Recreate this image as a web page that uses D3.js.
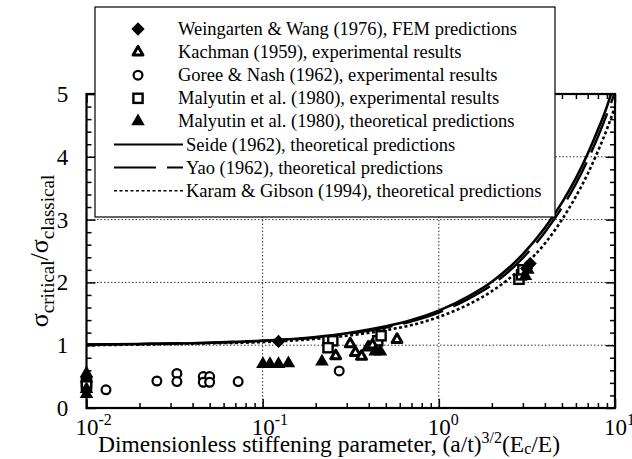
<!DOCTYPE html>
<html><head><meta charset="utf-8">
<script src="https://cdn.jsdelivr.net/npm/d3@7"></script>
</head>
<body style="margin:0"><svg id="c" width="632" height="459"></svg>
<script>
// ---- data ----
const xMajorTicks = [0.01, 0.1, 1, 10];
const xTickExponents = ["-2", "-1", "0", "1"];
const yMajorTicks = [0, 1, 2, 3, 4, 5];

const curveX = [0.01, 0.02, 0.05, 0.1, 0.2, 0.3, 0.5, 0.7, 1, 1.5, 2, 3, 4, 5, 6, 7, 8, 9, 9.5, 10];
const seideY = [1.01, 1.02, 1.04, 1.07, 1.13, 1.19, 1.30, 1.40, 1.55, 1.79, 2.01, 2.45, 2.87, 3.27, 3.66, 4.05, 4.43, 4.80, 5.0, 5.18];
const yaoY   = [1.01, 1.02, 1.04, 1.07, 1.12, 1.18, 1.28, 1.38, 1.52, 1.75, 1.96, 2.39, 2.80, 3.19, 3.57, 3.95, 4.32, 4.68, 4.86, 5.03];
const karamY = [1.00, 1.01, 1.03, 1.05, 1.10, 1.15, 1.24, 1.32, 1.45, 1.66, 1.86, 2.25, 2.62, 3.00, 3.37, 3.73, 4.09, 4.44, 4.62, 4.80];

const weingartenX = [0.123, 3.15, 3.3];
const weingartenY = [1.06, 2.22, 2.30];
const kachmanX = [0.26, 0.314, 0.336, 0.364, 0.398, 0.42, 0.579];
const kachmanY = [0.83, 1.02, 0.88, 0.82, 0.97, 1.00, 1.09];
const goreeX = [0.0129, 0.0251, 0.0326, 0.0326, 0.046, 0.05, 0.046, 0.05, 0.0726, 0.272];
const goreeY = [0.29, 0.43, 0.55, 0.42, 0.50, 0.50, 0.41, 0.41, 0.42, 0.59];
const malyExpX = [0.01, 0.01, 0.235, 0.25, 0.235, 0.45, 0.47, 2.85, 2.95, 3.0];
const malyExpY = [0.42, 0.36, 1.07, 1.07, 0.96, 1.07, 1.15, 2.05, 2.12, 2.20];
const malyThX = [0.01, 0.01, 0.01, 0.01, 0.1003, 0.11, 0.123, 0.14, 0.217, 0.435, 0.466, 3.1, 3.2];
const malyThY = [0.55, 0.47, 0.30, 0.22, 0.70, 0.70, 0.70, 0.71, 0.74, 0.90, 0.90, 2.10, 2.20];

const legendMarkers = [
  {sym: "diamond", label: "Weingarten & Wang (1976), FEM predictions"},
  {sym: "ktri", label: "Kachman (1959), experimental results"},
  {sym: "circle", label: "Goree & Nash (1962), experimental results"},
  {sym: "square", label: "Malyutin et al. (1980), experimental results"},
  {sym: "ftri", label: "Malyutin et al. (1980), theoretical predictions"}
];
const legendLines = [
  {dash: null, label: "Seide (1962), theoretical predictions"},
  {dash: "42,11", label: "Yao (1962), theoretical predictions"},
  {dash: "3,2.5", label: "Karam & Gibson (1994), theoretical predictions"}
];

// ---- layout ----
const FONT = "'Liberation Serif'";
const svg = d3.select("#c");
const L = 86.5, R = 615, T = 94, B = 408;
const x = d3.scaleLog().domain([0.01, 10]).range([L, R]);
const y = d3.scaleLinear().domain([0, 5]).range([B, T]);
function txt(g) { return g.append("text").style("font-family", FONT).attr("fill", "#000"); }

// grid
const grid = svg.append("g").attr("stroke", "#333").attr("stroke-width", 1).attr("stroke-dasharray", "1.5,2");
grid.selectAll("line.h").data([1, 2, 3, 4]).join("line")
  .attr("x1", L).attr("x2", R).attr("y1", d => y(d)).attr("y2", d => y(d));
grid.selectAll("line.v").data([0.1, 1]).join("line")
  .attr("x1", d => x(d)).attr("x2", d => x(d)).attr("y1", T).attr("y2", B);

// axes
const allX = x.ticks().filter(d => d >= 0.01 && d <= 10);
const minorX = allX.filter(d => !xMajorTicks.some(m => Math.abs(m - d) < 1e-9));
const minorY = d3.range(0, 5.001, 0.2).filter(d => Math.abs(d - Math.round(d)) > 1e-6);

function styleAxis(g) {
  g.select(".domain").remove();
  g.selectAll("line").attr("stroke", "#000").attr("stroke-width", 1.5);
  g.selectAll("text").remove();
}
svg.append("g").attr("transform", `translate(0,${B})`).call(d3.axisBottom(x).tickValues(xMajorTicks).tickSize(-9)).call(styleAxis);
svg.append("g").attr("transform", `translate(0,${B})`).call(d3.axisBottom(x).tickValues(minorX).tickSize(-5)).call(styleAxis);
svg.append("g").attr("transform", `translate(0,${T})`).call(d3.axisTop(x).tickValues(xMajorTicks).tickSize(-9)).call(styleAxis);
svg.append("g").attr("transform", `translate(0,${T})`).call(d3.axisTop(x).tickValues(minorX).tickSize(-5)).call(styleAxis);
svg.append("g").attr("transform", `translate(${L},0)`).call(d3.axisLeft(y).tickValues(yMajorTicks).tickSize(-9)).call(styleAxis);
svg.append("g").attr("transform", `translate(${L},0)`).call(d3.axisLeft(y).tickValues(minorY).tickSize(-5)).call(styleAxis);
svg.append("g").attr("transform", `translate(${R},0)`).call(d3.axisRight(y).tickValues(yMajorTicks).tickSize(-9)).call(styleAxis);
svg.append("g").attr("transform", `translate(${R},0)`).call(d3.axisRight(y).tickValues(minorY).tickSize(-5)).call(styleAxis);

// frame
svg.append("rect").attr("x", L).attr("y", T).attr("width", R - L).attr("height", B - T)
  .attr("fill", "none").attr("stroke", "#000").attr("stroke-width", 2.2);

// clip
svg.append("clipPath").attr("id", "clip").append("rect").attr("x", L).attr("y", T).attr("width", R - L).attr("height", B - T);

// curves
const line = d3.line().x(d => x(d[0])).y(d => y(d[1])).curve(d3.curveMonotoneX);
const cg = svg.append("g").attr("clip-path", "url(#clip)").attr("fill", "none").attr("stroke", "#000");
cg.append("path").attr("d", line(d3.zip(curveX, karamY))).attr("stroke-width", 2.6).attr("stroke-dasharray", "3,2.5");
cg.append("path").attr("d", line(d3.zip(curveX, yaoY))).attr("stroke-width", 2.4).attr("stroke-dasharray", "42,11");
cg.append("path").attr("d", line(d3.zip(curveX, seideY))).attr("stroke-width", 2.6);

// markers
function drawSym(g, sym, cx, cy) {
  if (sym === "diamond") {
    g.append("path").attr("d", d3.symbol(d3.symbolSquare, 88)()).attr("transform", `translate(${cx},${cy}) rotate(45)`).attr("fill", "#000");
  } else if (sym === "ftri") {
    g.append("path").attr("d", d3.symbol(d3.symbolTriangle, 80)()).attr("transform", `translate(${cx},${cy})`).attr("fill", "#000");
  } else if (sym === "ktri") {
    g.append("path").attr("d", d3.symbol(d3.symbolTriangle, 42)()).attr("transform", `translate(${cx},${cy})`)
      .attr("fill", "#fff").attr("stroke", "#000").attr("stroke-width", 3).attr("stroke-linejoin", "round");
  } else if (sym === "circle") {
    g.append("circle").attr("cx", cx).attr("cy", cy).attr("r", 4.4).attr("fill", "#fff").attr("stroke", "#000").attr("stroke-width", 2.2);
  } else if (sym === "square") {
    g.append("rect").attr("x", cx - 4.6).attr("y", cy - 4.6).attr("width", 9.2).attr("height", 9.2)
      .attr("fill", "#fff").attr("stroke", "#000").attr("stroke-width", 2.4);
  }
}
const mg = svg.append("g");
d3.zip(goreeX, goreeY).forEach(d => drawSym(mg, "circle", x(d[0]), y(d[1])));
d3.zip(malyExpX, malyExpY).forEach(d => drawSym(mg, "square", x(d[0]), y(d[1])));
d3.zip(kachmanX, kachmanY).forEach(d => drawSym(mg, "ktri", x(d[0]), y(d[1])));
d3.zip(malyThX, malyThY).forEach(d => drawSym(mg, "ftri", x(d[0]), y(d[1])));
d3.zip(weingartenX, weingartenY).forEach(d => drawSym(mg, "diamond", x(d[0]), y(d[1])));

// tick labels
const tl = svg.append("g");
yMajorTicks.forEach(v => {
  txt(tl).attr("font-size", 23).attr("x", L - 24).attr("y", y(v) + 8).attr("text-anchor", "middle").text(v);
});
xMajorTicks.forEach((v, i) => {
  const t = txt(tl).attr("font-size", 23).attr("x", x(v) - 11).attr("y", B + 27);
  t.append("tspan").text("10");
  t.append("tspan").attr("dy", -10).attr("font-size", 16).text(xTickExponents[i]);
});

// axis titles
const xt = txt(svg).attr("x", 329).attr("y", B + 44).attr("text-anchor", "middle").attr("font-size", 23.5);
xt.append("tspan").text("Dimensionless stiffening parameter, (a/t)");
xt.append("tspan").attr("dy", -9).attr("font-size", 16).text("3/2");
xt.append("tspan").attr("dy", 9).text("(E");
xt.append("tspan").attr("dy", 2).attr("font-size", 16).text("c");
xt.append("tspan").attr("dy", -2).text("/E)");

const yt = txt(svg).attr("transform", `translate(48,${(T + B) / 2}) rotate(-90)`).attr("text-anchor", "middle").attr("font-size", 26);
yt.append("tspan").text("σ");
yt.append("tspan").attr("dy", 6).attr("font-size", 19).text("critical");
yt.append("tspan").attr("dy", -6).text("/σ");
yt.append("tspan").attr("dy", 6).attr("font-size", 19).text("classical");

// legend
const lg = svg.append("g");
lg.append("rect").attr("x", 95).attr("y", 7).attr("width", 460).attr("height", 210)
  .attr("fill", "#fff").attr("stroke", "#000").attr("stroke-width", 1.2);
const rowY = i => 29 + i * 23.1;
legendMarkers.forEach((d, i) => {
  drawSym(lg, d.sym, 138, rowY(i));
  txt(lg).attr("x", 178).attr("y", rowY(i) + 6).attr("font-size", 18.5).text(d.label);
});
legendLines.forEach((d, j) => {
  const i = j + 5;
  const ln = lg.append("line").attr("x1", 114).attr("x2", 183).attr("y1", rowY(i)).attr("y2", rowY(i))
    .attr("stroke", "#000").attr("stroke-width", d.dash && d.dash.startsWith("3") ? 1.6 : 2);
  if (d.dash) ln.attr("stroke-dasharray", d.dash);
  txt(lg).attr("x", 186).attr("y", rowY(i) + 6).attr("font-size", 18.5).text(d.label);
});
</script></body></html>
